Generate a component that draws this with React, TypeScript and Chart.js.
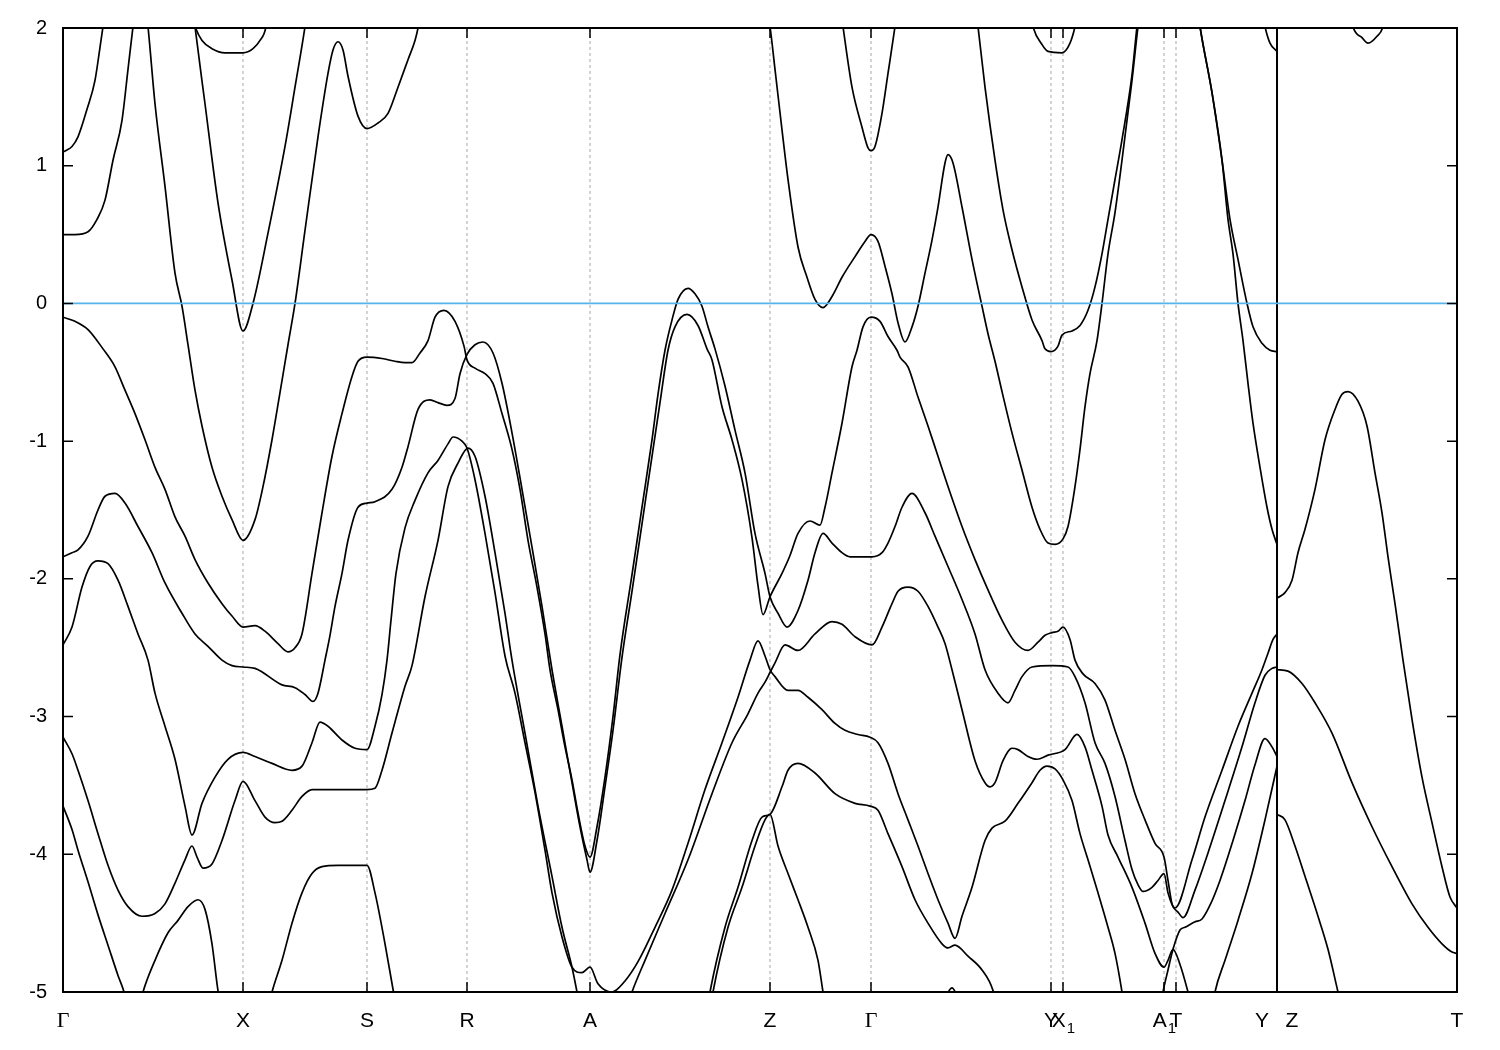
import React, { useEffect, useRef } from "react";
import { Chart, registerables } from "chart.js";

Chart.register(...registerables);

type P = [number, number];

// k-path positions of the high-symmetry points and their labels
const kTicks = [0, 180, 304, 404, 527, 707, 808, 988, 1000, 1101, 1113, 1214, 1394];
const kLabels = ["Γ", "X", "S", "R", "A", "Z", "Γ", "Y", "X_1", "A_1", "T", "Y|Z", "T"];
const energyTicks = [-5, -4, -3, -2, -1, 0, 1, 2];
const discontinuityK = 1214;
const eMin = -5;
const eMax = 2;
const kMax = 1394;

// ---- band data: [k, E(eV)] ----
const bandG1: P[] = [[0,1.10],[3,1.11],[9,1.14],[15,1.21],[24,1.41],[32,1.62],[37,1.86],[40,2.01],[43,2.17]];
const bandG2: P[] = [[0,0.50],[12,0.50],[25,0.52],[34,0.61],[42,0.75],[50,1.04],[59,1.33],[65,1.70],[70,2.01],[73,2.17]];
const bandG3: P[] = [[82,2.20],[85,2.01],[92,1.45],[102,0.85],[112,0.22],[119,-0.02],[125,-0.30],[132,-0.63],[139,-0.89],[149,-1.19],[159,-1.40],[169,-1.57],[180,-1.72],[192,-1.57],[200,-1.33],[209,-0.99],[219,-0.56],[225,-0.30],[232,0.00],[242,0.53],[255,1.21],[265,1.67],[270,1.84],[275,1.90],[280,1.84],[285,1.65],[295,1.36],[304,1.27],[315,1.31],[325,1.38],[335,1.57],[345,1.77],[352,1.91],[355,2.00],[358,2.13]];
const bandG4: P[] = [[129,2.20],[132,2.01],[142,1.45],[155,0.73],[169,0.17],[180,-0.20],[190,0.00],[205,0.51],[222,1.14],[232,1.57],[242,2.01],[245,2.17]];
const bandG5: P[] = [[127,2.13],[132,2.01],[139,1.91],[149,1.85],[162,1.82],[180,1.82],[190,1.85],[197,1.91],[203,2.01],[205,2.13]];

const bandB1: P[] = [[0,-0.10],[12,-0.13],[25,-0.19],[40,-0.33],[52,-0.46],[62,-0.63],[72,-0.80],[82,-0.99],[92,-1.19],[102,-1.35],[112,-1.55],[122,-1.69],[132,-1.86],[145,-2.03],[159,-2.18],[169,-2.27],[180,-2.35],[192,-2.34],[202,-2.38],[215,-2.47],[225,-2.53],[232,-2.50],[239,-2.40],[249,-1.96],[259,-1.52],[269,-1.11],[279,-0.80],[289,-0.53],[295,-0.42],[304,-0.39],[319,-0.40],[332,-0.42],[342,-0.43],[349,-0.43],[357,-0.36],[365,-0.27],[372,-0.10],[381,-0.05],[392,-0.13],[401,-0.31],[404,-0.41],[412,-0.47],[422,-0.51],[430,-0.58],[439,-0.80],[449,-1.06],[457,-1.35],[465,-1.72],[474,-2.06],[482,-2.40],[487,-2.66],[495,-2.95],[502,-3.22],[509,-3.46],[515,-3.70],[522,-3.94],[527,-4.02],[534,-3.80],[542,-3.44],[550,-3.00],[557,-2.55],[569,-1.97],[579,-1.48],[589,-0.99],[595,-0.66],[602,-0.34],[609,-0.12],[615,0.03],[625,0.11],[632,0.07],[639,-0.02],[645,-0.17],[652,-0.33],[662,-0.60],[672,-0.92],[682,-1.23],[692,-1.67],[702,-1.96],[707,-2.13],[715,-2.25],[724,-2.35],[735,-2.23],[745,-2.01],[752,-1.81],[760,-1.67],[769,-1.74],[779,-1.81],[787,-1.84],[809,-1.84],[819,-1.81],[825,-1.74],[832,-1.62],[839,-1.48],[849,-1.38],[862,-1.52],[872,-1.69],[885,-1.91],[899,-2.15],[912,-2.40],[922,-2.66],[935,-2.83],[945,-2.90],[952,-2.81],[959,-2.71],[969,-2.64],[989,-2.63],[1005,-2.64],[1012,-2.71],[1022,-2.90],[1032,-3.19],[1042,-3.34],[1052,-3.58],[1062,-3.90],[1069,-4.11],[1075,-4.22],[1080,-4.27],[1089,-4.24],[1095,-4.19],[1101,-4.14],[1105,-4.28],[1110,-4.38],[1115,-4.42],[1120,-4.46],[1132,-4.26],[1145,-3.99],[1162,-3.61],[1179,-3.22],[1192,-2.90],[1202,-2.70],[1209,-2.65],[1214,-2.64]];

const bandB2: P[] = [[0,-1.84],[9,-1.81],[15,-1.79],[25,-1.69],[35,-1.50],[42,-1.40],[52,-1.38],[62,-1.45],[75,-1.62],[89,-1.81],[102,-2.03],[119,-2.25],[132,-2.40],[145,-2.49],[159,-2.59],[169,-2.63],[180,-2.64],[192,-2.65],[219,-2.77],[232,-2.79],[242,-2.84],[250,-2.89],[255,-2.83],[262,-2.59],[267,-2.41],[272,-2.20],[279,-1.96],[285,-1.72],[295,-1.48],[304,-1.45],[312,-1.44],[329,-1.35],[339,-1.19],[345,-1.04],[355,-0.77],[367,-0.70],[375,-0.72],[384,-0.74],[392,-0.69],[397,-0.51],[404,-0.37],[412,-0.30],[420,-0.28],[430,-0.36],[439,-0.58],[449,-0.94],[459,-1.35],[469,-1.77],[479,-2.20],[489,-2.66],[499,-3.07],[509,-3.48],[517,-3.80],[524,-4.04],[527,-4.13],[534,-3.90],[542,-3.51],[550,-3.10],[559,-2.57],[569,-2.09],[579,-1.60],[589,-1.11],[597,-0.72],[605,-0.34],[612,-0.17],[624,-0.08],[635,-0.16],[644,-0.33],[649,-0.41],[659,-0.75],[669,-0.99],[679,-1.28],[689,-1.70],[695,-2.05],[700,-2.26],[707,-2.13],[719,-1.96],[727,-1.83],[735,-1.67],[747,-1.58],[757,-1.61],[762,-1.48],[769,-1.23],[779,-0.87],[789,-0.46],[794,-0.34],[800,-0.17],[808,-0.10],[817,-0.13],[825,-0.24],[834,-0.34],[837,-0.39],[845,-0.46],[855,-0.68],[865,-0.89],[875,-1.11],[885,-1.33],[899,-1.62],[912,-1.86],[925,-2.08],[939,-2.30],[952,-2.46],[965,-2.52],[975,-2.46],[982,-2.41],[989,-2.39],[995,-2.38],[1000,-2.35],[1007,-2.44],[1012,-2.59],[1020,-2.69],[1032,-2.76],[1042,-2.88],[1052,-3.10],[1062,-3.31],[1072,-3.56],[1082,-3.75],[1092,-3.92],[1101,-4.02],[1105,-4.19],[1109,-4.36],[1112,-4.39],[1129,-4.04],[1142,-3.73],[1159,-3.39],[1175,-3.07],[1189,-2.83],[1199,-2.66],[1205,-2.54],[1210,-2.44],[1214,-2.40]];

const bandB3: P[] = [[0,-2.48],[9,-2.35],[19,-2.06],[27,-1.91],[35,-1.87],[45,-1.89],[55,-2.01],[65,-2.20],[75,-2.40],[85,-2.59],[92,-2.83],[102,-3.07],[112,-3.31],[122,-3.65],[129,-3.86],[139,-3.63],[152,-3.44],[165,-3.31],[180,-3.26],[192,-3.29],[209,-3.34],[229,-3.39],[239,-3.36],[249,-3.19],[257,-3.04],[265,-3.07],[279,-3.17],[292,-3.23],[304,-3.24],[312,-3.07],[319,-2.84],[324,-2.59],[328,-2.30],[333,-1.96],[342,-1.63],[352,-1.43],[365,-1.23],[375,-1.14],[385,-1.02],[390,-0.97],[399,-1.00],[404,-1.05],[412,-1.28],[422,-1.67],[432,-2.10],[442,-2.56],[452,-2.83],[462,-3.19],[472,-3.55],[482,-3.97],[489,-4.28],[499,-4.60],[509,-4.82],[519,-4.86],[527,-4.82],[535,-4.94],[549,-5.00],[562,-4.92],[575,-4.78],[592,-4.53],[609,-4.26],[625,-3.92],[642,-3.53],[659,-3.19],[675,-2.86],[687,-2.59],[695,-2.45],[702,-2.56],[707,-2.66],[712,-2.71],[725,-2.81],[735,-2.81],[745,-2.86],[759,-2.95],[772,-3.05],[782,-3.10],[795,-3.13],[807,-3.15],[815,-3.19],[825,-3.34],[835,-3.56],[845,-3.75],[855,-3.94],[865,-4.14],[875,-4.33],[885,-4.50],[892,-4.61],[899,-4.45],[909,-4.24],[922,-3.90],[929,-3.81],[942,-3.76],[955,-3.63],[969,-3.48],[977,-3.39],[984,-3.36],[992,-3.38],[1000,-3.46],[1009,-3.61],[1017,-3.85],[1025,-4.04],[1035,-4.28],[1045,-4.53],[1052,-4.72],[1059,-5.00],[1061,-5.10]];

const bandB4: P[] = [[0,-3.15],[9,-3.27],[15,-3.39],[25,-3.61],[35,-3.85],[45,-4.08],[55,-4.26],[65,-4.38],[79,-4.45],[92,-4.43],[102,-4.36],[112,-4.21],[122,-4.04],[129,-3.94],[134,-4.02],[140,-4.10],[149,-4.07],[159,-3.90],[172,-3.61],[180,-3.47],[192,-3.61],[202,-3.73],[212,-3.77],[219,-3.76],[229,-3.68],[239,-3.58],[249,-3.53],[277,-3.53],[304,-3.53],[312,-3.52],[319,-3.39],[329,-3.12],[342,-2.78],[349,-2.63],[362,-2.13],[375,-1.72],[385,-1.33],[395,-1.16],[405,-1.05],[412,-1.11],[422,-1.40],[432,-1.81],[442,-2.25],[449,-2.59],[462,-3.12],[475,-3.65],[489,-4.16],[499,-4.53],[509,-4.82],[514,-5.00],[517,-5.12]];
const bandB5: P[] = [[0,-3.65],[9,-3.82],[15,-3.97],[25,-4.20],[35,-4.44],[45,-4.66],[55,-4.88],[61,-5.00],[64,-5.10]];
const bandB6: P[] = [[78,-5.06],[80,-5.00],[92,-4.77],[105,-4.57],[115,-4.48],[125,-4.38],[135,-4.33],[142,-4.40],[149,-4.65],[155,-4.99],[157,-5.06]];
const bandB7: P[] = [[207,-5.06],[209,-5.00],[219,-4.77],[229,-4.50],[239,-4.28],[249,-4.14],[259,-4.09],[275,-4.08],[304,-4.08],[312,-4.28],[322,-4.65],[330,-4.98],[332,-5.06]];
const bandB8: P[] = [[565,-5.09],[569,-5.00],[582,-4.77],[602,-4.43],[625,-4.04],[649,-3.56],[669,-3.19],[685,-2.98],[695,-2.83],[702,-2.75],[707,-2.68],[712,-2.61],[722,-2.48],[735,-2.52],[752,-2.40],[769,-2.31],[779,-2.33],[792,-2.42],[809,-2.48],[819,-2.35],[829,-2.18],[835,-2.09],[845,-2.06],[855,-2.09],[865,-2.20],[875,-2.35],[882,-2.47],[889,-2.66],[899,-2.95],[912,-3.32],[922,-3.48],[927,-3.51],[932,-3.48],[940,-3.32],[949,-3.23],[955,-3.24],[965,-3.29],[974,-3.31],[985,-3.28],[1002,-3.24],[1014,-3.13],[1022,-3.22],[1029,-3.39],[1039,-3.65],[1045,-3.86],[1055,-4.02],[1069,-4.24],[1082,-4.50],[1092,-4.72],[1101,-4.82],[1105,-4.77],[1110,-4.69],[1117,-4.80],[1125,-5.00],[1128,-5.09]];
const bandB9: P[] = [[645,-5.09],[647,-5.00],[662,-4.53],[675,-4.24],[689,-3.90],[699,-3.73],[707,-3.71],[719,-3.51],[725,-3.39],[735,-3.34],[752,-3.41],[772,-3.56],[792,-3.63],[807,-3.65],[815,-3.68],[825,-3.85],[839,-4.09],[852,-4.33],[865,-4.50],[879,-4.65],[885,-4.68],[892,-4.66],[905,-4.74],[919,-4.84],[930,-4.99],[933,-5.09]];
const bandB10: P[] = [[648,-5.09],[650,-5.00],[665,-4.53],[679,-4.24],[692,-3.94],[702,-3.75],[707,-3.71],[715,-3.94],[725,-4.14],[735,-4.33],[745,-4.53],[755,-4.77],[760,-5.00],[762,-5.09]];
const bandB11: P[] = [[881,-5.06],[889,-4.97],[896,-5.06]];
const bandR3: P[] = [[1098,-5.09],[1100,-5.00],[1105,-4.84],[1110,-4.69],[1117,-4.55],[1122,-4.53],[1132,-4.49],[1139,-4.47],[1147,-4.37],[1157,-4.19],[1170,-3.90],[1182,-3.61],[1192,-3.35],[1202,-3.16],[1209,-3.22],[1214,-3.29]];
const bandR4: P[] = [[1150,-5.09],[1152,-5.00],[1162,-4.77],[1175,-4.48],[1189,-4.14],[1202,-3.75],[1214,-3.36]];

const bandC1: P[] = [[703,2.17],[707,2.01],[712,1.70],[719,1.26],[725,0.90],[735,0.41],[744,0.19],[752,0.03],[760,-0.03],[769,0.05],[779,0.19],[792,0.34],[802,0.45],[808,0.50],[815,0.45],[822,0.27],[829,0.07],[835,-0.14],[842,-0.28],[849,-0.17],[855,-0.02],[862,0.22],[869,0.46],[875,0.70],[882,1.02],[885,1.08],[890,1.02],[899,0.70],[909,0.32],[919,-0.02],[925,-0.22],[932,-0.42],[939,-0.64],[949,-0.94],[959,-1.21],[969,-1.48],[977,-1.64],[985,-1.74],[992,-1.75],[1000,-1.71],[1005,-1.62],[1012,-1.33],[1017,-1.06],[1022,-0.75],[1027,-0.51],[1034,-0.27],[1039,0.00],[1045,0.36],[1052,0.66],[1059,1.04],[1069,1.62],[1075,2.01],[1078,2.17]];
const bandC2: P[] = [[777,2.17],[780,2.01],[789,1.57],[799,1.28],[805,1.13],[808,1.11],[812,1.14],[819,1.38],[825,1.67],[832,2.01],[835,2.17]];
const bandC3: P[] = [[912,2.17],[915,2.01],[922,1.57],[932,1.04],[940,0.68],[949,0.39],[959,0.12],[969,-0.12],[979,-0.27],[982,-0.33],[988,-0.35],[995,-0.31],[999,-0.23],[1009,-0.20],[1017,-0.16],[1025,-0.05],[1032,0.12],[1039,0.36],[1045,0.61],[1052,0.90],[1059,1.19],[1069,1.66],[1074,2.01],[1077,2.17]];
const bandC4: P[] = [[967,2.13],[970,2.01],[979,1.88],[985,1.83],[999,1.82],[1007,1.89],[1012,2.01],[1015,2.13]];
const bandD1: P[] = [[1134,2.17],[1137,2.01],[1149,1.53],[1159,1.04],[1165,0.61],[1170,0.36],[1175,0.00],[1180,-0.27],[1185,-0.58],[1190,-0.87],[1197,-1.19],[1204,-1.48],[1209,-1.64],[1214,-1.75]];
const bandD2: P[] = [[1134,2.17],[1137,2.01],[1149,1.53],[1159,1.04],[1167,0.61],[1175,0.32],[1184,0.00],[1190,-0.17],[1199,-0.29],[1207,-0.34],[1214,-0.35]];
const bandC6: P[] = [[1199,2.13],[1202,2.01],[1207,1.89],[1214,1.83]];
const bandC7: P[] = [[1287,2.13],[1290,2.01],[1299,1.93],[1305,1.89],[1314,1.94],[1320,2.01],[1323,2.13]];
const bandZ1: P[] = [[1214,-2.14],[1222,-2.10],[1229,-2.01],[1235,-1.81],[1242,-1.64],[1252,-1.35],[1262,-0.99],[1272,-0.77],[1279,-0.66],[1285,-0.64],[1295,-0.71],[1304,-0.89],[1312,-1.23],[1319,-1.52],[1325,-1.84],[1332,-2.18],[1340,-2.59],[1349,-3.02],[1359,-3.44],[1369,-3.77],[1379,-4.09],[1387,-4.31],[1394,-4.39]];
const bandZ2: P[] = [[1214,-2.66],[1225,-2.67],[1239,-2.76],[1252,-2.90],[1269,-3.12],[1289,-3.48],[1309,-3.80],[1329,-4.09],[1349,-4.36],[1365,-4.53],[1379,-4.65],[1389,-4.71],[1394,-4.72]];
const bandZ3: P[] = [[1214,-3.71],[1222,-3.75],[1232,-3.94],[1242,-4.16],[1255,-4.45],[1265,-4.69],[1275,-5.00],[1278,-5.09]];

const allBands: P[][] = [
  bandG1, bandG2, bandG3, bandG4, bandG5,
  bandB1, bandB2, bandB3, bandB4, bandB5, bandB6, bandB7, bandB8, bandB9, bandB10, bandB11,
  bandR3, bandR4,
  bandC1, bandC2, bandC3, bandC4, bandD1, bandD2, bandC6, bandC7,
  bandZ1, bandZ2, bandZ3,
];

const SANS = "'Liberation Sans', Arial, Helvetica, sans-serif";
const SERIF = "'Liberation Serif', 'Times New Roman', serif";
const LABEL_SIZE = 21;
const SUB_SIZE = 15;

function drawKLabel(ctx: CanvasRenderingContext2D, lab: string, px: number, base: number) {
  ctx.textAlign = "left";
  if (lab.includes("|")) {
    const [l, r] = lab.split("|");
    ctx.font = `${LABEL_SIZE}px ${SANS}`;
    ctx.textAlign = "center";
    ctx.fillText(l, px - 15, base);
    ctx.fillText(r, px + 15, base);
    return;
  }
  if (lab.includes("_")) {
    const [m, s] = lab.split("_");
    ctx.font = `${LABEL_SIZE}px ${SANS}`;
    const w1 = ctx.measureText(m).width;
    ctx.font = `${SUB_SIZE}px ${SANS}`;
    const w2 = ctx.measureText(s).width;
    const start = px - (w1 + w2) / 2;
    ctx.font = `${LABEL_SIZE}px ${SANS}`;
    ctx.fillText(m, start, base);
    ctx.font = `${SUB_SIZE}px ${SANS}`;
    ctx.fillText(s, start + w1 + 1, base + 6);
    return;
  }
  ctx.font = lab === "Γ" ? `${LABEL_SIZE + 1}px ${SERIF}` : `${LABEL_SIZE}px ${SANS}`;
  ctx.textAlign = "center";
  ctx.fillText(lab, px, base);
}

const decorPlugin = {
  id: "bandDecor",
  afterDraw(chart: any) {
    const { ctx, chartArea: a, scales } = chart;
    const xs = scales.x;
    const ys = scales.y;
    ctx.save();
    ctx.strokeStyle = "#000";
    ctx.lineWidth = 1.5;
    ctx.beginPath();
    for (const v of energyTicks) {
      const py = ys.getPixelForValue(v);
      ctx.moveTo(a.left, py);
      ctx.lineTo(a.left + 10, py);
      ctx.moveTo(a.right, py);
      ctx.lineTo(a.right - 10, py);
    }
    for (const k of kTicks) {
      const px = xs.getPixelForValue(k);
      ctx.moveTo(px, a.bottom);
      ctx.lineTo(px, a.bottom - 10);
      ctx.moveTo(px, a.top);
      ctx.lineTo(px, a.top + 10);
    }
    ctx.stroke();
    ctx.lineWidth = 2;
    ctx.strokeRect(a.left, a.top, a.right - a.left, a.bottom - a.top);
    ctx.fillStyle = "#000";
    ctx.textBaseline = "alphabetic";
    const base = a.bottom + 35;
    kLabels.forEach((lab, i) => drawKLabel(ctx, lab, xs.getPixelForValue(kTicks[i]), base));
    ctx.restore();
  },
};

export default function App() {
  const ref = useRef<HTMLCanvasElement | null>(null);

  useEffect(() => {
    if (!ref.current) return;
    const datasets: any[] = [];

    // zero (Fermi) level, on top
    datasets.push({
      data: [{ x: 0, y: 0 }, { x: kMax, y: 0 }],
      borderColor: "#56B4E9",
      borderWidth: 1.7,
      pointRadius: 0,
      order: 0,
    });

    allBands.forEach((b) => {
      datasets.push({
        data: b.map(([x, y]) => ({ x, y })),
        borderColor: "#000",
        borderWidth: 1.7,
        pointRadius: 0,
        cubicInterpolationMode: "monotone",
        order: 1,
      });
    });

    // discontinuity line Y|Z
    datasets.push({
      data: [{ x: discontinuityK, y: eMin }, { x: discontinuityK, y: eMax }],
      borderColor: "#000",
      borderWidth: 2,
      pointRadius: 0,
      order: 1,
    });

    // dashed verticals at inner high-symmetry points
    kTicks.forEach((k, i) => {
      if (i === 0 || i === kTicks.length - 1 || k === discontinuityK) return;
      datasets.push({
        data: [{ x: k, y: eMin }, { x: k, y: eMax }],
        borderColor: "#a8a8a8",
        borderWidth: 1,
        borderDash: [3, 3],
        pointRadius: 0,
        order: 2,
      });
    });

    const chart = new Chart(ref.current, {
      type: "line",
      data: { datasets },
      options: {
        animation: false,
        responsive: false,
        events: [],
        layout: { padding: { left: 0, right: 43, top: 28, bottom: 58 } },
        plugins: { legend: { display: false }, tooltip: { enabled: false } },
        scales: {
          x: { type: "linear", min: 0, max: kMax, display: false },
          y: {
            type: "linear",
            min: eMin,
            max: eMax,
            afterFit: (s: any) => {
              s.width = 63;
            },
            afterBuildTicks: (s: any) => {
              s.ticks = energyTicks.map((v) => ({ value: v }));
            },
            ticks: {
              color: "#000",
              padding: 16,
              font: { family: SANS, size: 20 },
              callback: (v: any) => String(v),
            },
            grid: { display: false, drawTicks: false },
            border: { display: false },
          },
        },
      },
      plugins: [decorPlugin],
    });
    return () => chart.destroy();
  }, []);

  return (
    <div style={{ position: "fixed", left: 0, top: 0, width: 1500, height: 1050, background: "#fff" }}>
      <canvas ref={ref} width={1500} height={1050} style={{ display: "block" }} />
    </div>
  );
}
